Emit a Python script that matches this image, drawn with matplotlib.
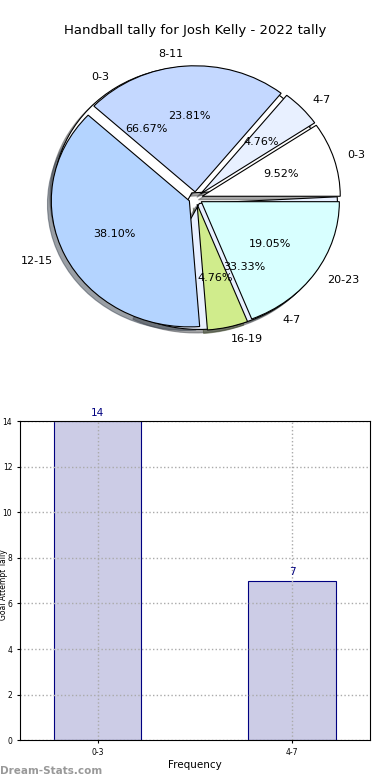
import matplotlib
matplotlib.use("Agg")
from matplotlib import pyplot as plt
from matplotlib.patches import Shadow

# outer ring: tally by minute band
band_labels = ["0-3", "4-7", "8-11", "12-15", "16-19", "20-23"]
band_counts = [2, 1, 5, 8, 1, 4]
band_colors = ["#ffffff", "#e8f0ff", "#c4d8ff", "#b4d4ff", "#d0ec8c", "#d8ffff"]

# inner pie / bar chart: tally by frequency
freq_labels = ["0-3", "4-7"]
freq_counts = [14, 7]
freq_colors = ["#ffffff", "#e8f0ff"]

title = "Handball tally for Josh Kelly - 2022 tally"

fig = plt.figure(figsize=(3.9, 7.8), dpi=100)

ax = fig.add_axes([0.059, 0.544, 0.885, 0.404])
pies = [(freq_counts, freq_labels, freq_colors, 3, 0.8),
        (band_counts, band_labels, band_colors, 0, 1.0)]
for counts, labels, colors, start, z in pies:
    wedges, _, _ = ax.pie(counts, labels=labels, colors=colors, autopct="%1.2f%%",
                          explode=[0.05] * len(counts), startangle=start, shadow=True,
                          wedgeprops={"edgecolor": "black", "linewidth": 0.8},
                          textprops={"fontsize": 8})
    for w in wedges:
        w.set_zorder(z)
# keep all shadows underneath both pies
for p in ax.patches:
    if isinstance(p, Shadow):
        p.set_zorder(0.5)
ax.set_aspect("auto")
ax.set_xlim(-1.25, 1.25)
ax.set_ylim(-1.25, 1.25)
fig.text(0.5, 0.961, title, ha="center", va="center", fontsize=9.5)

bx = fig.add_axes([0.051, 0.051, 0.897, 0.409])
xs = list(range(len(freq_counts)))
bx.bar(xs, freq_counts, width=0.45, color="#ccccE6", edgecolor="navy", linewidth=0.8, zorder=2)
for x, v in zip(xs, freq_counts):
    bx.text(x, v + 0.15, str(v), ha="center", va="bottom", fontsize=7.5, color="navy")
bx.set_xticks(xs)
bx.set_xticklabels(freq_labels, fontsize=5.5)
bx.set_xlim(-0.4, 1.4)
bx.set_ylim(0, 14)
bx.set_yticks(range(0, 15, 2))
bx.tick_params(axis="y", labelsize=5.5, length=2)
bx.tick_params(axis="x", length=2)
bx.grid(True, linestyle=":", color="#aaaaaa", linewidth=1, zorder=3)
bx.set_axisbelow(False)
for sp in bx.spines.values():
    sp.set_zorder(5)
bx.set_xlabel("Frequency", fontsize=7.5, labelpad=2)
fig.text(0.009, 0.25, "Goal Attempt Tally", rotation=90, ha="center", va="center", fontsize=5.5)

fig.text(0.0, 0.012, "Dream-Stats.com", ha="left", va="center", fontsize=7.5,
         color="#999999", fontweight="bold")

fig.savefig("out.png", dpi=100)
plt.close(fig)
